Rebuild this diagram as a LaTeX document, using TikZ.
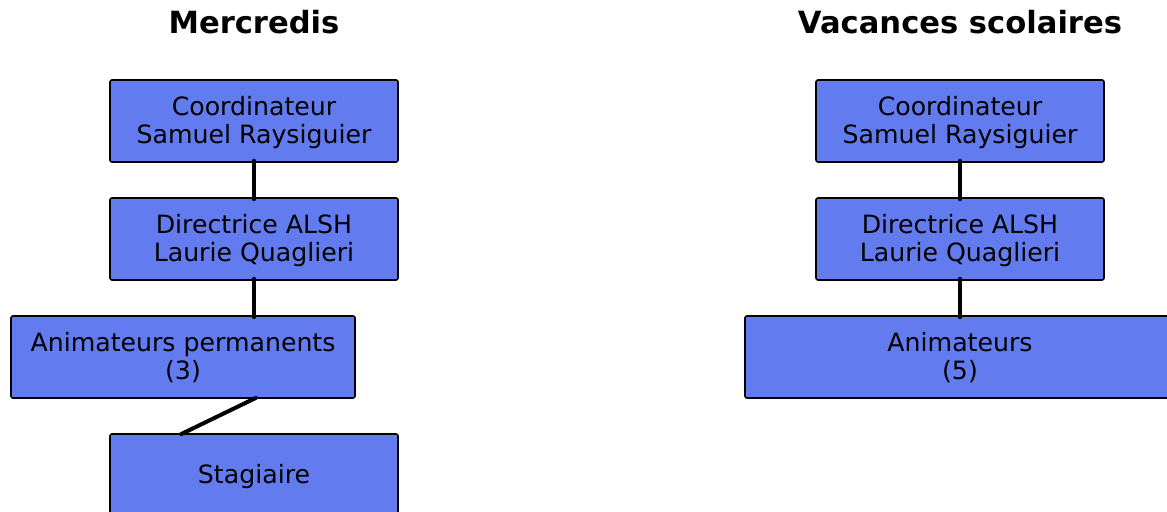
\documentclass[tikz,border=0pt]{standalone}
\usepackage{fontspec}
\setmainfont{DejaVu Sans}
\usetikzlibrary{calc}
\definecolor{bleu}{RGB}{98,123,239}
\tikzset{
    poste/.style={rectangle,draw=black,line width=0.8pt,rounded corners=1pt,fill=bleu,minimum width=144pt,minimum height=41pt,align=center,inner sep=0pt,text depth=1pt,font=\fontsize{12.6}{14}\selectfont},
    titre/.style={font=\fontsize{15.3}{17}\selectfont\bfseries},
    lien/.style={line width=2pt,line cap=round,shorten <=-1pt,shorten >=-1pt}
}

\begin{document}
\begin{tikzpicture}[x=0.5pt,y=-0.5pt]
  \clip (0,0) rectangle (1167,512);

  \node[titre] (tm) at (254, 22) {Mercredis};
  \node[titre] (tv) at (960, 22) {Vacances scolaires};

  % mercredis
  \node[poste] (m1) at (254, 121) {Coordinateur\\Samuel Raysiguier};
  \node[poste] (m2) at (254, 239) {Directrice ALSH\\Laurie Quaglieri};
  \node[poste,minimum width=172pt] (m3) at (183, 357) {Animateurs permanents\\(3)};
  \node[poste] (m4) at (254, 475) {Stagiaire};

  % vacances
  \node[poste] (v1) at (960, 121) {Coordinateur\\Samuel Raysiguier};
  \node[poste] (v2) at (960, 239) {Directrice ALSH\\Laurie Quaglieri};
  \node[poste,minimum width=215pt] (v3) at (960, 357) {Animateurs\\(5)};

  \draw[lien] (m1.south) -- (m2.north);
  \draw[lien] (m2.south) -- (m2.south |- m3.north);
  \draw[lien] (m3.south -| m2.south) -- (m4.north -| m3.south);
  \draw[lien] (v1.south) -- (v2.north);
  \draw[lien] (v2.south) -- (v3.north);
\end{tikzpicture}
\end{document}
